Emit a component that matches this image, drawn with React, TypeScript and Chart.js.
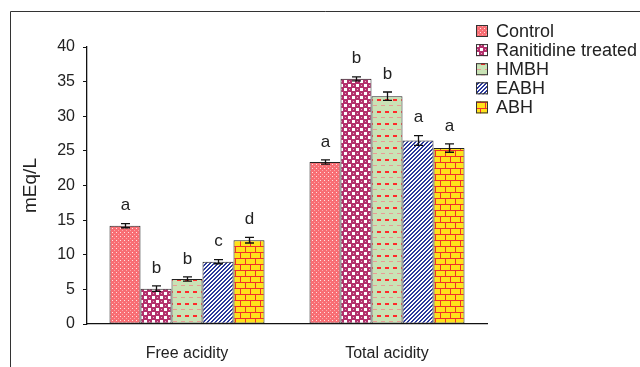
import React, { useEffect, useRef } from "react";
import { Chart, registerables } from "chart.js";

Chart.register(...registerables);

const categories = ["Free acidity", "Total acidity"];
const seriesNames = ["Control", "Ranitidine treated", "HMBH", "EABH", "ABH"];
const controlValues = [14.2, 23.4];
const ranitidineValues = [5.1, 35.4];
const hmbhValues = [6.5, 32.9];
const eabhValues = [9.0, 26.5];
const abhValues = [12.1, 25.4];
const controlErr = [0.3, 0.3];
const ranitidineErr = [0.4, 0.3];
const hmbhErr = [0.3, 0.6];
const eabhErr = [0.3, 0.7];
const abhErr = [0.4, 0.6];
const controlLetters = ["a", "a"];
const ranitidineLetters = ["b", "b"];
const hmbhLetters = ["b", "b"];
const eabhLetters = ["c", "a"];
const abhLetters = ["d", "a"];
const yTicks = [0, 5, 10, 15, 20, 25, 30, 35, 40];
const yTitle = "mEq/L";

const FONT = "'Liberation Sans', Arial, sans-serif";

function tile(w: number, h: number, draw: (c: CanvasRenderingContext2D) => void) {
  const cv = document.createElement("canvas");
  cv.width = w;
  cv.height = h;
  const c = cv.getContext("2d")!;
  draw(c);
  return c.createPattern(cv, "repeat")!;
}

function makePatterns() {
  const control = tile(4, 4, (c) => {
    c.fillStyle = "#f86e74";
    c.fillRect(0, 0, 4, 4);
    c.fillStyle = "#ffe4e4";
    c.fillRect(0, 0, 1, 1);
    c.fillStyle = "#fca8ac";
    c.fillRect(2, 2, 1, 1);
  });
  const ranitidine = tile(8, 8, (c) => {
    c.fillStyle = "#b3306c";
    c.fillRect(0, 0, 8, 8);
    c.fillStyle = "#ffffff";
    c.fillRect(0, 0, 3, 3);
    c.fillRect(4, 4, 3, 3);
    c.fillStyle = "#e7a9c6";
    c.fillRect(5, 1, 1, 1);
    c.fillRect(1, 5, 1, 1);
  });
  const hmbh = tile(8, 12, (c) => {
    c.fillStyle = "#c9e2b5";
    c.fillRect(0, 0, 8, 12);
    c.fillStyle = "#ff2a2a";
    c.fillRect(1, 3, 4, 2);
    c.fillStyle = "#e99a94";
    c.fillRect(5, 9, 4, 1);
    c.fillRect(0, 9, 1, 1);
  });
  const eabh = tile(4, 4, (c) => {
    c.fillStyle = "#ffffff";
    c.fillRect(0, 0, 4, 4);
    c.fillStyle = "#2b3a9c";
    for (let y = 0; y < 4; y++) {
      for (let x = 0; x < 4; x++) {
        const k = (x + y) % 4;
        if (k === 0 || k === 1) c.fillRect(x, y, 1, 1);
      }
    }
  });
  const abh = tile(10, 12, (c) => {
    c.fillStyle = "#ffe21a";
    c.fillRect(0, 0, 10, 12);
    c.fillStyle = "#f0302a";
    c.fillRect(0, 0, 10, 1);
    c.fillRect(0, 6, 10, 1);
    c.fillRect(0, 0, 1, 6);
    c.fillRect(5, 6, 1, 6);
  });
  return [control, ranitidine, hmbh, eabh, abh];
}

export default function App() {
  const ref = useRef<HTMLCanvasElement | null>(null);

  useEffect(() => {
    const canvas = ref.current!;
    const patterns = makePatterns();
    const values = [controlValues, ranitidineValues, hmbhValues, eabhValues, abhValues];
    const errs = [controlErr, ranitidineErr, hmbhErr, eabhErr, abhErr];
    const letters = [controlLetters, ranitidineLetters, hmbhLetters, eabhLetters, abhLetters];

    const framePlugin = {
      id: "frame",
      beforeDraw(chart: any) {
        const c = chart.ctx;
        c.save();
        c.fillStyle = "#ffffff";
        c.fillRect(0, 0, chart.width, chart.height);
        c.strokeStyle = "#333333";
        c.lineWidth = 1;
        c.beginPath();
        c.moveTo(10.5, chart.height);
        c.lineTo(10.5, 11.5);
        c.lineTo(chart.width, 11.5);
        c.stroke();
        c.restore();
      },
    };

    const extrasPlugin = {
      id: "extras",
      afterDatasetsDraw(chart: any) {
        const c = chart.ctx;
        const ys = chart.scales.y;
        c.save();
        chart.data.datasets.forEach((ds: any, i: number) => {
          const meta = chart.getDatasetMeta(i);
          meta.data.forEach((bar: any, j: number) => {
            const v = values[i][j];
            const e = errs[i][j];
            const x = Math.round(bar.x) + 0.5;
            const yTop = ys.getPixelForValue(v + e);
            const yBot = ys.getPixelForValue(v - e);
            c.strokeStyle = "#111111";
            c.lineWidth = 1.3;
            c.beginPath();
            c.moveTo(x, yTop);
            c.lineTo(x, yBot);
            c.moveTo(x - 4.5, yTop);
            c.lineTo(x + 4.5, yTop);
            c.moveTo(x - 4.5, yBot);
            c.lineTo(x + 4.5, yBot);
            c.stroke();
            c.fillStyle = "#222222";
            c.font = `17px ${FONT}`;
            c.textAlign = "center";
            c.textBaseline = "middle";
            c.fillText(letters[i][j], x, yTop - 18);
          });
        });
        // y title
        c.save();
        c.translate(31, (ys.top + ys.bottom) / 2);
        c.rotate(-Math.PI / 2);
        c.fillStyle = "#222222";
        c.font = `19px ${FONT}`;
        c.textAlign = "center";
        c.textBaseline = "middle";
        c.fillText(yTitle, 0, 0);
        c.restore();
        // legend
        const lx = 476;
        const ly0 = 31;
        const step = 19.1;
        seriesNames.forEach((name, i) => {
          const cy = ly0 + i * step;
          c.fillStyle = patterns[i];
          c.fillRect(lx, cy - 6, 12, 12);
          c.strokeStyle = "#333333";
          c.lineWidth = 1;
          c.strokeRect(lx + 0.5, cy - 5.5, 11, 11);
          c.fillStyle = "#222222";
          c.font = `18px ${FONT}`;
          c.textAlign = "left";
          c.textBaseline = "middle";
          c.fillText(name, lx + 20, cy + 1);
        });
        c.restore();
      },
    };

    const chart = new Chart(canvas, {
      type: "bar",
      data: {
        labels: categories,
        datasets: seriesNames.map((name, i) => ({
          label: name,
          data: values[i],
          backgroundColor: patterns[i] as any,
          borderColor: "#222222",
          borderWidth: 1,
          borderSkipped: false,
          categoryPercentage: 0.775,
          barPercentage: 1.0,
        })),
      },
      options: {
        responsive: false,
        animation: false,
        devicePixelRatio: 1,
        layout: { padding: { left: 0, top: 47, right: 153, bottom: 0 } },
        plugins: {
          legend: { display: false },
          tooltip: { enabled: false },
          title: { display: false },
        },
        scales: {
          x: {
            grid: { display: false, drawTicks: false },
            border: { display: true, color: "#111111", width: 1.3 },
            ticks: {
              color: "#222222",
              font: { family: FONT, size: 16 },
              padding: 20,
            },
            afterFit(scale: any) {
              scale.height = 43;
            },
          },
          y: {
            min: 0,
            max: 40,
            afterBuildTicks(scale: any) {
              scale.ticks = yTicks.map((v) => ({ value: v }));
            },
            grid: {
              drawOnChartArea: false,
              drawTicks: true,
              tickLength: 4,
              color: "#111111",
            },
            border: { display: true, color: "#111111", width: 1.3 },
            ticks: {
              color: "#222222",
              font: { family: FONT, size: 16 },
              padding: 8,
            },
            afterFit(scale: any) {
              scale.width = 87;
            },
          },
        },
      },
      plugins: [framePlugin, extrasPlugin],
    });
    return () => chart.destroy();
  }, []);

  return (
    <div style={{ position: "fixed", left: 0, top: 0, width: 640, height: 367, background: "#fff" }}>
      <canvas ref={ref} width={640} height={367} style={{ display: "block" }} />
    </div>
  );
}
